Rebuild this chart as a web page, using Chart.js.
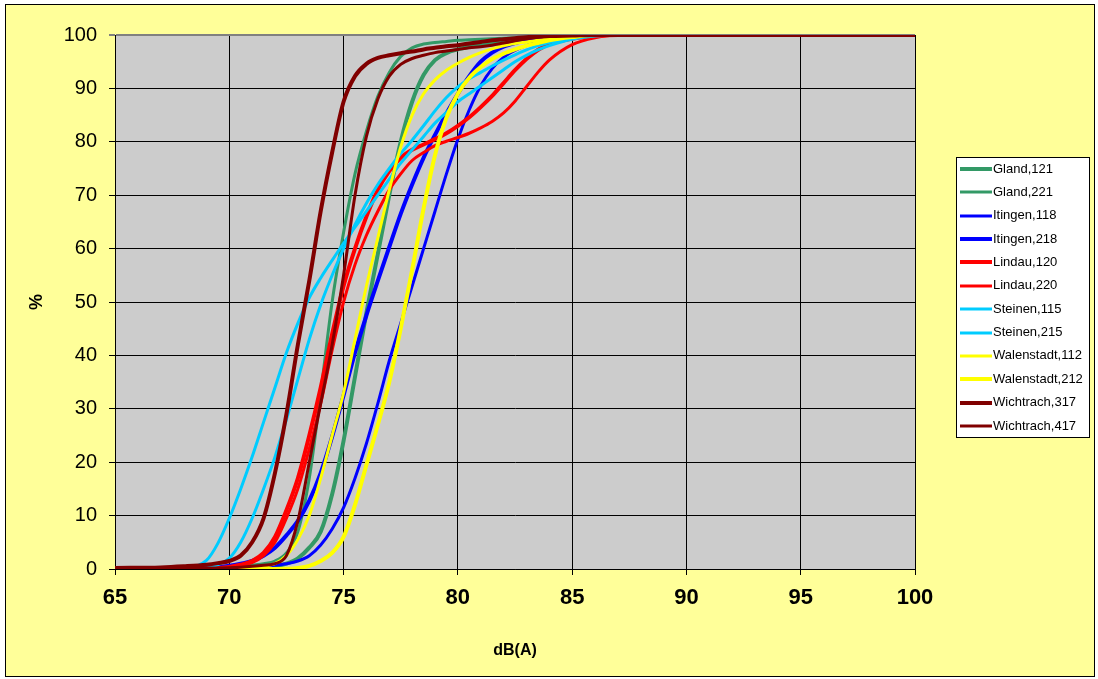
<!DOCTYPE html>
<html><head><meta charset="utf-8">
<script src="https://cdn.jsdelivr.net/npm/chart.js@4.4.1/dist/chart.umd.min.js"></script>
<style>html,body{margin:0;padding:0;background:#fff}#wrap{width:1098px;height:679px}</style>
</head><body><div id="wrap"><canvas id="c" width="1098" height="679"></canvas></div>
<script>
// x values (dB(A)) shared by all series
const dB = [65,67,68,69,69.5,70,70.5,71,71.5,72,72.5,73,73.5,74,74.5,75,75.5,76,76.5,77,77.5,78,78.5,79,79.5,80,80.5,81,81.5,82,82.5,83,83.5,84,85,86,87,88,90,100];

const gland121 = [0,0,0,0,0,0.05,0.1,0.2,0.3,0.5,1,2,4,7,14,24,36,48,59,70,80,87.5,92.5,95.3,96.6,97.3,97.8,98.2,98.6,99,99.2,99.4,99.6,99.7,99.9,100,100,100,100,100];
const gland221 = [0,0,0,0.1,0.15,0.2,0.4,0.7,1,1.5,3,7,17,33,50,63,74,82,88.5,93,96,97.6,98.3,98.6,98.8,99,99.1,99.2,99.3,99.4,99.5,99.6,99.7,99.8,99.9,100,100,100,100,100];
const itingen118 = [0,0,0.05,0.1,0.15,0.2,0.3,0.4,0.5,0.7,1,1.5,2.5,4.5,7.5,11.5,17,23.5,31,39,46,53,60,67,74,80.5,86,90.5,93.7,95.8,97.1,98,98.7,99.2,99.7,100,100,100,100,100];
const itingen218 = [0,0.05,0.1,0.2,0.35,0.6,1,1.5,2.5,4,6.3,9,12.8,18,24.8,32.5,40.5,47.5,54,60.3,66.5,72,77,81.3,85.3,89,92.3,95,96.7,97.8,98.5,99,99.3,99.6,99.9,100,100,100,100,100];
const lindau120 = [0,0,0.05,0.1,0.2,0.4,0.8,1.5,3,6,11,17,25,34,44,53,60,66,71,74.5,77,78.5,79.5,80.5,81.6,83,84.6,86.5,88.6,91,93.4,95.5,97.2,98.3,99.3,99.8,100,100,100,100];
const lindau220 = [0,0,0.05,0.1,0.2,0.35,0.7,1.2,2.5,5,9.5,15,22.5,31,41,50,57,62.5,67,71,74,76.5,78,79.3,80.1,80.8,81.6,82.6,83.8,85.4,87.6,90.3,93,95.3,98.2,99.5,100,100,100,100];
const steinen115 = [0,0,0.2,1.6,4.8,9.5,15,21,27.5,34,40.5,46,50.8,54.5,57.8,61,64,67,70,73,76,78.5,81,83.5,85.5,87.5,89,90.5,92,93.5,95,96.2,97.2,98,99.2,99.8,100,100,100,100];
const steinen215 = [0,0,0.05,0.2,0.8,2,5,9.5,15,21,28,35.5,43,49.5,55,60,64.5,68.5,72,75,77.8,80.3,83,85.8,88.3,90.3,91.8,93,94.2,95.3,96.3,97.2,98,98.6,99.4,99.9,100,100,100,100];
const walenstadt112 = [0,0,0,0,0.05,0.1,0.15,0.25,0.5,1,2.5,5.5,10,17,25,33,43,53,62,71,79,85,89,91.6,93.4,94.7,95.8,96.7,97.4,98,98.4,98.7,99,99.3,99.7,100,100,100,100,100];
const walenstadt212 = [0,0,0,0,0,0,0,0,0,0,0.05,0.2,0.6,1.5,3,6,12,19.5,27,35,45,56,67.5,77.5,84.5,89,92,94,95.5,96.5,97.3,98,98.5,99,99.6,100,100,100,100,100];
const wichtrach317 = [0.2,0.3,0.5,0.8,1.1,1.5,2.5,5,9.5,18,29,42,54,67,78,87.5,92.3,94.6,95.7,96.2,96.6,96.9,97.3,97.6,97.9,98.1,98.4,98.7,99,99.2,99.4,99.6,99.7,99.8,99.9,100,100,100,100,100];
const wichtrach417 = [0.1,0.1,0.15,0.2,0.2,0.25,0.35,0.5,0.7,1,2.5,9,20,31,42,55,70,81,88,92.3,94.5,95.6,96.2,96.7,97,97.3,97.6,97.8,98.1,98.5,98.9,99.3,99.6,99.8,99.95,100,100,100,100,100];

const seriesLabels = ['Gland,121','Gland,221','Itingen,118','Itingen,218','Lindau,120','Lindau,220','Steinen,115','Steinen,215','Walenstadt,112','Walenstadt,212','Wichtrach,317','Wichtrach,417'];
const seriesValues = [gland121,gland221,itingen118,itingen218,lindau120,lindau220,steinen115,steinen215,walenstadt112,walenstadt212,wichtrach317,wichtrach417];
const seriesColors = ['#339966','#339966','#0000FF','#0000FF','#FF0000','#FF0000','#00CCFF','#00CCFF','#FFFF00','#FFFF00','#800000','#800000'];
const seriesWidths = [4,3,3,4,4,3,3,3,3,4,4,3];

const xTicks = [65,70,75,80,85,90,95,100];
const yTicks = [0,10,20,30,40,50,60,70,80,90,100];

const FONT = "'Liberation Sans', Arial, sans-serif";

const datasets = seriesLabels.map((lab, i) => ({
  label: lab,
  data: dB.map((x, j) => ({x: x, y: seriesValues[i][j]})),
  borderColor: seriesColors[i],
  backgroundColor: seriesColors[i],
  borderWidth: seriesWidths[i],
  pointRadius: 0,
  cubicInterpolationMode: 'monotone',
  fill: false,
  order: seriesLabels.length - i
}));

const bgPlugin = {
  id: 'bg',
  beforeDraw(chart) {
    const ctx = chart.ctx, a = chart.chartArea;
    ctx.save();
    ctx.fillStyle = '#FFFFFF';
    ctx.fillRect(0, 0, chart.width, chart.height);
    ctx.fillStyle = '#FFFF99';
    ctx.fillRect(5, 4, 1090, 673);
    ctx.strokeStyle = '#000';
    ctx.lineWidth = 1;
    ctx.strokeRect(5.5, 4.5, 1089, 672);
    ctx.fillStyle = '#CCCCCC';
    ctx.fillRect(a.left, a.top, a.right - a.left, a.bottom - a.top);
    ctx.restore();
  },
  afterDraw(chart) {
    const ctx = chart.ctx;
    ctx.save();
    const bx = 956.5, by = 157.5, bw = 133, bh = 280;
    ctx.fillStyle = '#FFFFFF';
    ctx.fillRect(bx, by, bw, bh);
    ctx.strokeStyle = '#000';
    ctx.lineWidth = 1;
    ctx.strokeRect(bx, by, bw, bh);
    ctx.font = '13px ' + FONT;
    ctx.textBaseline = 'middle';
    ctx.textAlign = 'left';
    chart.data.datasets.forEach((ds, i) => {
      const y = 169 + i * 23.36;
      ctx.strokeStyle = ds.borderColor;
      ctx.lineWidth = ds.borderWidth;
      ctx.beginPath();
      ctx.moveTo(960, Math.round(y));
      ctx.lineTo(992, Math.round(y));
      ctx.stroke();
      ctx.fillStyle = '#000';
      ctx.fillText(ds.label, 993, y);
    });
    ctx.restore();
  }
};

new Chart(document.getElementById('c'), {
  type: 'line',
  data: { datasets },
  options: {
    responsive: false,
    animation: false,
    devicePixelRatio: 1,
    layout: { padding: { left: 10, right: 183, top: 35, bottom: 10 } },
    plugins: { legend: { display: false }, tooltip: { enabled: false } },
    elements: { line: { borderCapStyle: 'butt', borderJoinStyle: 'round' } },
    scales: {
      x: {
        type: 'linear', min: 65, max: 100,
        afterBuildTicks: s => { s.ticks = xTicks.map(v => ({value: v})); },
        afterFit: s => { s.height = 100; },
        ticks: { font: { family: FONT, size: 22, weight: 'bold' }, color: '#000', padding: 10, maxRotation: 0, autoSkip: false },
        grid: { color: '#000', lineWidth: 1, tickLength: 6, drawOnChartArea: true },
        border: { color: '#000', width: 1 },
        title: { display: true, text: 'dB(A)', color: '#000', font: { family: FONT, size: 16, weight: 'bold' }, padding: { top: 0, bottom: 9 } }
      },
      y: {
        min: 0, max: 100,
        afterBuildTicks: s => { s.ticks = yTicks.map(v => ({value: v})); },
        afterFit: s => { s.width = 105; },
        ticks: { font: { family: FONT, size: 20 }, color: '#000', padding: 12, autoSkip: false },
        grid: {
          color: c => (c.tick && c.tick.value === 100) ? '#808080' : '#000',
          lineWidth: c => (c.tick && c.tick.value === 100) ? 2 : 1,
          tickLength: 6
        },
        border: { color: '#000', width: 1 },
        title: { display: true, text: '%', color: '#000', font: { family: FONT, size: 18, weight: 'bold' }, padding: { top: 16, bottom: 0 } }
      }
    }
  },
  plugins: [bgPlugin]
});
</script>
</body></html>
